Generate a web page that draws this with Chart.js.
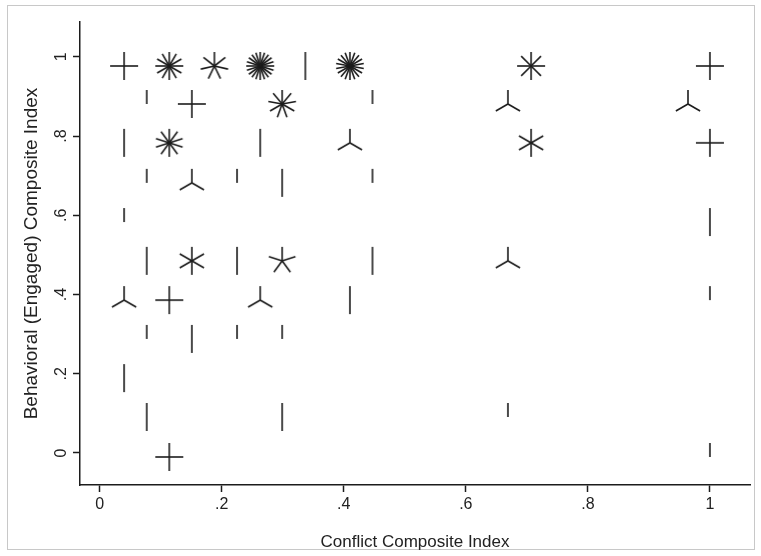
<!DOCTYPE html>
<html>
<head>
<meta charset="utf-8">
<script src="https://cdn.jsdelivr.net/npm/chart.js@4.4.0/dist/chart.umd.min.js"></script>
<style>
  html, body { margin: 0; padding: 0; background: #fff; }
  #wrap { width: 761px; height: 556px; position: relative; }
</style>
</head>
<body>
<div id="wrap"><canvas id="sunflower-chart" width="761" height="556"></canvas></div>
<script>
// sunflower cells: position of the flower and how many petals it has
const flowerX = [
    0.040, 0.114, 0.188, 0.263, 0.337, 0.410, 0.707, 1.000,
    0.077, 0.151, 0.299, 0.447, 0.669, 0.964,
    0.040, 0.114, 0.263, 0.410, 0.707, 1.000,
    0.077, 0.151, 0.225, 0.299, 0.447,
    0.040, 1.000,
    0.077, 0.151, 0.225, 0.299, 0.447, 0.669,
    0.040, 0.114, 0.263, 0.410, 1.000,
    0.077, 0.151, 0.225, 0.299,
    0.040,
    0.077, 0.299, 0.669,
    0.114, 1.000
];
const flowerY = [
    0.977, 0.977, 0.977, 0.977, 0.977, 0.977, 0.977, 0.977,
    0.881, 0.881, 0.881, 0.881, 0.881, 0.881,
    0.783, 0.783, 0.783, 0.783, 0.783, 0.783,
    0.682, 0.682, 0.682, 0.682, 0.682,
    0.583, 0.583,
    0.485, 0.485, 0.485, 0.485, 0.485, 0.485,
    0.386, 0.386, 0.386, 0.386, 0.386,
    0.288, 0.288, 0.288, 0.288,
    0.189,
    0.091, 0.091, 0.091,
    -0.010, -0.010
];
const flowerPetals = [
    4, 12, 7, 20, 2, 18, 8, 4,
    1, 4, 9, 1, 3, 3,
    2, 10, 2, 3, 6, 4,
    1, 3, 1, 2, 1,
    1, 2,
    2, 6, 2, 5, 2, 3,
    3, 4, 3, 2, 1,
    1, 2, 1, 1,
    2,
    2, 2, 1,
    4, 1
];
const xTickValues = [0, 0.2, 0.4, 0.6, 0.8, 1];
const xTickLabels = ["0", ".2", ".4", ".6", ".8", "1"];
const yTickValues = [0, 0.2, 0.4, 0.6, 0.8, 1];
const yTickLabels = ["0", ".2", ".4", ".6", ".8", "1"];

window.onload = function(){

    const ink = "#1c1c1c";
    const petalLength = 14;

    // one little canvas per petal count, used as the point style
    let flowerCache = {};
    function flowerImage(n){
        if(flowerCache[n]) return flowerCache[n];
        const size = 32;
        const c = document.createElement("canvas");
        c.width = size;
        c.height = size;
        const g = c.getContext("2d");
        g.strokeStyle = ink;
        g.lineWidth = 1.6;
        const cx = size / 2, cy = size / 2;
        for(let i = 0; i < n; i++){
            const a = Math.PI / 2 + i * 2 * Math.PI / n;
            g.beginPath();
            g.moveTo(cx, cy);
            g.lineTo(cx + petalLength * Math.cos(a), cy - petalLength * Math.sin(a));
            g.stroke();
        }
        flowerCache[n] = c;
        return c;
    }

    let points = [];
    for(let i = 0; i < flowerX.length; i++){
        points.push({x: flowerX[i], y: flowerY[i]});
    }

    const outerFrame = {
        id: "outerFrame",
        beforeDraw(chart){
            const ctx = chart.ctx;
            ctx.save();
            ctx.fillStyle = "#ffffff";
            ctx.fillRect(0, 0, chart.width, chart.height);
            ctx.strokeStyle = "#c8c8c8";
            ctx.lineWidth = 1;
            ctx.strokeRect(7.5, 5.5, 747, 544);
            ctx.restore();
        }
    };

    let sunflower = new Chart(
        document.getElementById("sunflower-chart"),{
            type: "scatter",
            data: {
                datasets: [
                    {
                        label: "flowers",
                        data: points,
                        pointStyle: function(ctx){ return flowerImage(flowerPetals[ctx.dataIndex]); },
                        pointRadius: 3,
                        showLine: false,
                    }
                ]
            },
            options: {
                responsive: false,
                animation: false,
                events: [],
                layout: { padding: { left: 0, top: 22, right: 11, bottom: 0 } },
                plugins: {
                    legend: { display: false },
                    tooltip: { enabled: false }
                },
                scales: {
                    x: {
                        type: "linear",
                        min: -0.0323,
                        max: 1.0657,
                        afterBuildTicks: function(scale){ scale.ticks = xTickValues.map(v => ({value: v})); },
                        afterFit: function(scale){ scale.height = 71; },
                        ticks: {
                            autoSkip: false,
                            maxRotation: 0,
                            padding: 3,
                            color: "#222",
                            font: { family: "'Liberation Sans', Arial, sans-serif", size: 16 },
                            callback: function(value, index){ return xTickLabels[index]; }
                        },
                        grid: { drawOnChartArea: false, drawTicks: true, tickLength: 7, tickColor: ink, tickWidth: 1.5 },
                        border: { display: true, color: ink, width: 1.5 },
                        title: {
                            display: true,
                            text: "Conflict Composite Index",
                            color: "#222",
                            font: { family: "'Liberation Sans', Arial, sans-serif", size: 17 },
                            padding: { top: 0, bottom: 3 }
                        }
                    },
                    y: {
                        type: "linear",
                        min: -0.0808,
                        max: 1.088,
                        afterBuildTicks: function(scale){ scale.ticks = yTickValues.map(v => ({value: v})); },
                        afterFit: function(scale){ scale.width = 80; },
                        ticks: {
                            autoSkip: false,
                            minRotation: 90,
                            maxRotation: 90,
                            crossAlign: "center",
                            padding: 5,
                            color: "#222",
                            font: { family: "'Liberation Sans', Arial, sans-serif", size: 16 },
                            callback: function(value, index){ return yTickLabels[index]; }
                        },
                        grid: { drawOnChartArea: false, drawTicks: true, tickLength: 7, tickColor: ink, tickWidth: 1.5 },
                        border: { display: true, color: ink, width: 1.5 },
                        title: {
                            display: true,
                            text: "Behavioral (Engaged) Composite Index",
                            color: "#222",
                            font: { family: "'Liberation Sans', Arial, sans-serif", size: 19 },
                            padding: { top: 20, bottom: 0 }
                        }
                    }
                }
            },
            plugins: [outerFrame]
        }
    );

}
</script>
</body>
</html>
